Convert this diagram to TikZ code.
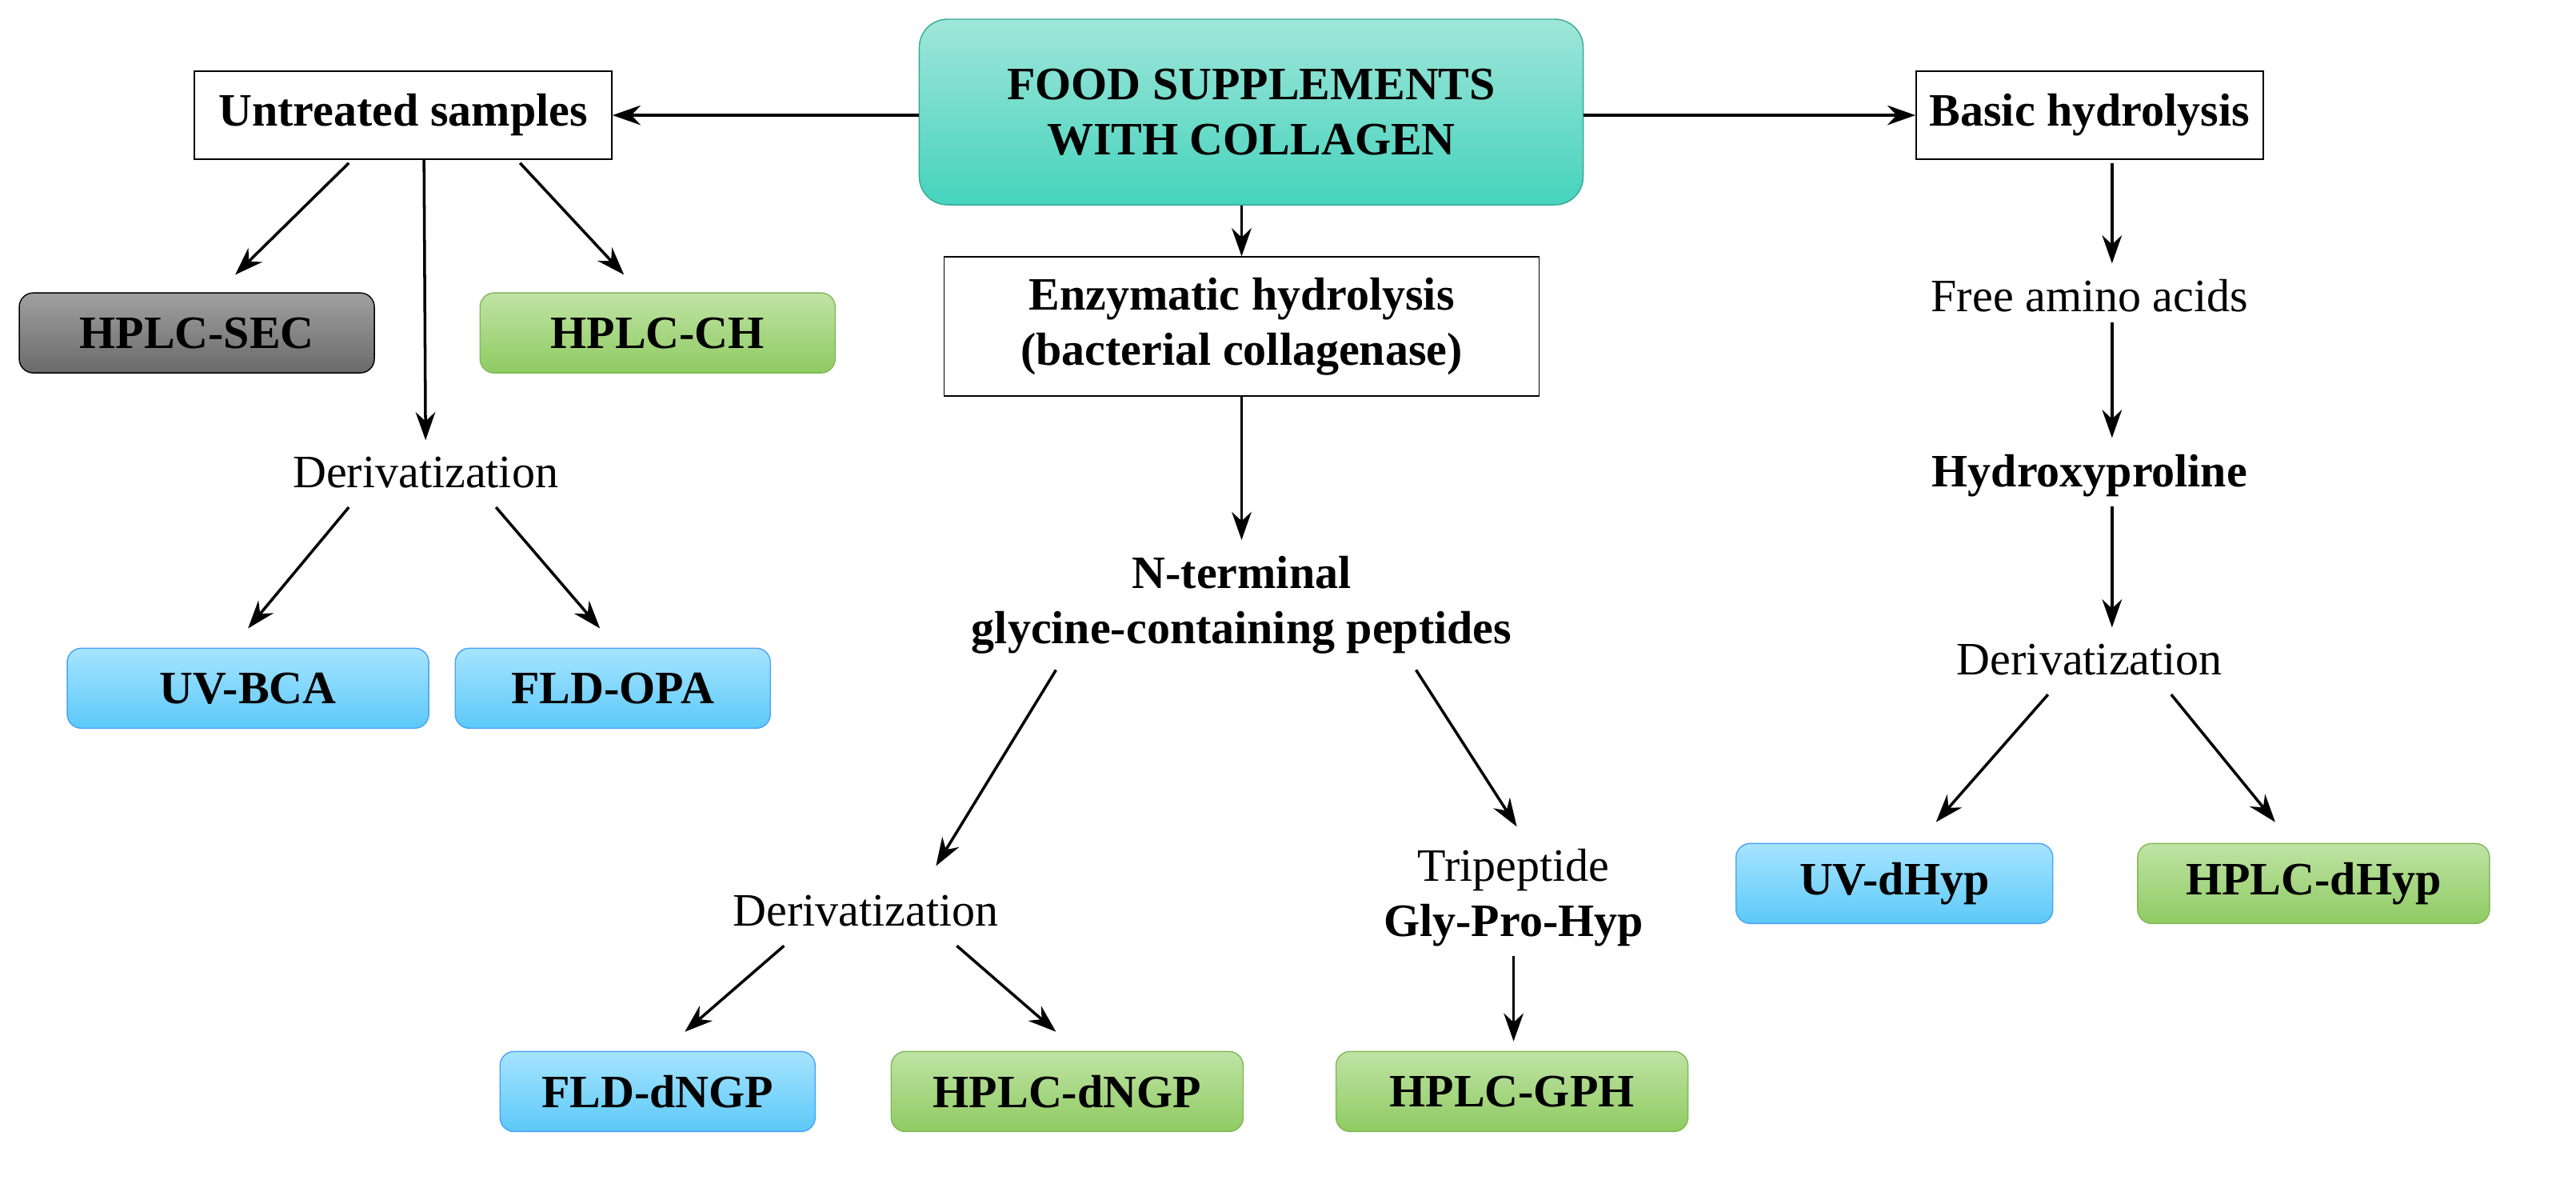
\documentclass[tikz,border=0pt]{standalone}
\usepackage{fontspec}
\setmainfont{Liberation Serif}
\usetikzlibrary{calc,arrows.meta}
\definecolor{tealA}{HTML}{9FE6DA}
\definecolor{tealB}{HTML}{45D3BC}
\definecolor{blueA}{HTML}{A6E4FF}
\definecolor{blueB}{HTML}{5CC9F8}
\definecolor{greenA}{HTML}{BFE3A4}
\definecolor{greenB}{HTML}{8FCB62}
\definecolor{grayA}{HTML}{A0A0A0}
\definecolor{grayB}{HTML}{6A6A6A}
\tikzset{
  lbl/.style={font=\fontsize{16.5}{19.5}\selectfont},
  blbl/.style={font=\fontsize{16.5}{19.5}\selectfont\bfseries},
  wbox/.style={draw,fill=white,blbl,minimum height=1.1cm},
  cbox/.style={rounded corners=5pt,blbl,minimum height=1.0cm},
  bluebox/.style={cbox,draw=blueB!80!blue,top color=blueA,bottom color=blueB},
  greenbox/.style={cbox,draw=greenB!90!black,top color=greenA,bottom color=greenB},
  graybox/.style={cbox,draw=black,top color=grayA,bottom color=grayB},
  arr/.style={-{Stealth[length=10pt,width=7pt]},line width=1pt}
}
\begin{document}
\begin{tikzpicture}[x=0.02cm,y=-0.02cm]
\useasboundingbox (0,0) rectangle (1610,737);
% top
\node[rounded corners=10pt,draw=tealB!80!black,top color=tealA,bottom color=tealB,blbl,
  minimum width=8.3cm,minimum height=2.32cm,align=center] (food) at (782,70)
  {FOOD SUPPLEMENTS\\WITH COLLAGEN};
\node[wbox,minimum width=5.22cm] (untr) at (252,72) {Untreated samples};
\node[wbox,minimum width=4.34cm] (basic) at (1306,72) {Basic hydrolysis};
\node[draw,blbl,minimum width=7.44cm,minimum height=1.74cm,align=center]
  (enz) at (776,204) {Enzymatic hydrolysis\\(bacterial collagenase)};
% left branch
\node[graybox,minimum width=4.44cm] (sec) at (123,208) {HPLC-SEC};
\node[greenbox,minimum width=4.44cm] (ch) at (411,208) {HPLC-CH};
\node[lbl] (derL) at (266,295) {Derivatization};
\node[bluebox,minimum width=4.52cm] (bca) at (155,430) {UV-BCA};
\node[bluebox,minimum width=3.94cm] (opa) at (383,430) {FLD-OPA};
% middle branch
\node[blbl,align=center] (nterm) at (776,378) {N-terminal\\glycine-containing peptides};
\node[lbl] (derM) at (541,569) {Derivatization};
\node[lbl,align=center] (tri) at (946,561) {Tripeptide\\\textbf{Gly-Pro-Hyp}};
\node[bluebox,minimum width=3.94cm] (ngp) at (411,682) {FLD-dNGP};
\node[greenbox,minimum width=4.4cm] (hngp) at (667,682) {HPLC-dNGP};
\node[greenbox,minimum width=4.4cm] (gph) at (945,682) {HPLC-GPH};
% right branch
\node[lbl] (free) at (1306,185) {Free amino acids};
\node[blbl] (hyp) at (1306,297) {Hydroxyproline};
\node[lbl] (derR) at (1306,412) {Derivatization};
\node[bluebox,minimum width=3.96cm] (uvh) at (1184,552) {UV-dHyp};
\node[greenbox,minimum width=4.4cm] (hh) at (1446,552) {HPLC-dHyp};
% arrows
\draw[arr] (food.west |- untr) -- (untr.east);
\draw[arr] (food.east |- basic) -- (basic.west);
\draw[arr] (food.south -| enz) -- (enz.north);
\draw[arr] ($(untr.south)+(-34,2)$) -- ($(sec.north)+(24,-11)$);
\draw[arr] ($(untr.south)+(13,0)$) -- ($(derL.north)+(0,-4)$);
\draw[arr] ($(untr.south)+(73,2)$) -- ($(ch.north)+(-21,-11)$);
\draw[arr] ($(derL.south)+(-48,6)$) -- ($(bca.north)+(0,-12)$);
\draw[arr] ($(derL.south)+(44,6)$) -- ($(opa.north)+(-8,-12)$);
\draw[arr] (enz.south) -- ($(nterm.north)+(0,-4)$);
\draw[arr] ($(nterm.south)+(-116,4)$) -- ($(derM.north)+(44,-12)$);
\draw[arr] ($(nterm.south)+(109,4)$) -- ($(tri.north)+(2,-8)$);
\draw[arr] ($(derM.south)+(-51,6)$) -- ($(ngp.north)+(17,-12)$);
\draw[arr] ($(derM.south)+(57,6)$) -- ($(hngp.north)+(-7,-12)$);
\draw[arr] (tri.south) -- ($(gph.north)+(1,-6)$);
\draw[arr] ($(basic.south)+(14,2)$) -- ($(free.north)+(14,-4)$);
\draw[arr] ($(free.south)+(14,0)$) -- ($(hyp.north)+(14,-4)$);
\draw[arr] ($(hyp.south)+(14,0)$) -- ($(derR.north)+(14,-4)$);
\draw[arr] ($(derR.south)+(-26,6)$) -- ($(uvh.north)+(26,-13)$);
\draw[arr] ($(derR.south)+(51,6)$) -- ($(hh.north)+(-24,-13)$);
\end{tikzpicture}
\end{document}
